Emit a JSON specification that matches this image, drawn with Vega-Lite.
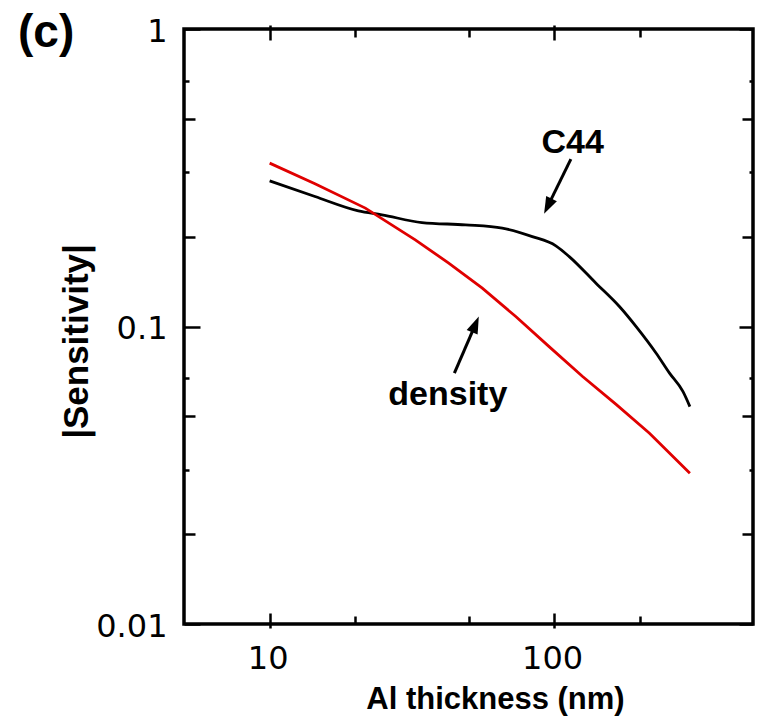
{
  "$schema": "https://vega.github.io/schema/vega-lite/v6.json",
  "width": 569,
  "height": 595,
  "autosize": {"type": "none"},
  "padding": {"left": 184, "top": 29, "right": 8, "bottom": 92},
  "background": "white",
  "title": {
    "text": "(c)",
    "orient": "top",
    "anchor": "start",
    "frame": "group",
    "font": "Liberation Sans",
    "fontSize": 46,
    "fontWeight": "bold",
    "color": "black",
    "dx": -166,
    "dy": 42,
    "offset": 0
  },
  "datasets": {
    "curves": [
      {"series": "C44", "thickness": 10, "sensitivity": 0.3088},
      {"series": "C44", "thickness": 14.43, "sensitivity": 0.2734},
      {"series": "C44", "thickness": 20.5, "sensitivity": 0.2447},
      {"series": "C44", "thickness": 24.8, "sensitivity": 0.2373},
      {"series": "C44", "thickness": 34.3, "sensitivity": 0.2236},
      {"series": "C44", "thickness": 48.8, "sensitivity": 0.2196},
      {"series": "C44", "thickness": 65.7, "sensitivity": 0.2141},
      {"series": "C44", "thickness": 83.8, "sensitivity": 0.2006},
      {"series": "C44", "thickness": 101.4, "sensitivity": 0.1867},
      {"series": "C44", "thickness": 113, "sensitivity": 0.1718},
      {"series": "C44", "thickness": 140.3, "sensitivity": 0.1398},
      {"series": "C44", "thickness": 169.6, "sensitivity": 0.1167},
      {"series": "C44", "thickness": 194.2, "sensitivity": 0.0999},
      {"series": "C44", "thickness": 228.4, "sensitivity": 0.0813},
      {"series": "C44", "thickness": 254.4, "sensitivity": 0.0697},
      {"series": "C44", "thickness": 283.5, "sensitivity": 0.0605},
      {"series": "C44", "thickness": 300, "sensitivity": 0.0538},
      {"series": "density", "thickness": 10, "sensitivity": 0.3541},
      {"series": "density", "thickness": 14.43, "sensitivity": 0.302},
      {"series": "density", "thickness": 21.7, "sensitivity": 0.25},
      {"series": "density", "thickness": 32.5, "sensitivity": 0.1956},
      {"series": "density", "thickness": 42.6, "sensitivity": 0.1633},
      {"series": "density", "thickness": 55.9, "sensitivity": 0.1345},
      {"series": "density", "thickness": 73.3, "sensitivity": 0.108},
      {"series": "density", "thickness": 96, "sensitivity": 0.0856},
      {"series": "density", "thickness": 125.9, "sensitivity": 0.0679},
      {"series": "density", "thickness": 165.1, "sensitivity": 0.0547},
      {"series": "density", "thickness": 216.3, "sensitivity": 0.0438},
      {"series": "density", "thickness": 300, "sensitivity": 0.0321}
    ],
    "labels": [
      {"label": "C44", "thickness": 116.2, "sensitivity": 0.3827},
      {"label": "density", "thickness": 42.3, "sensitivity": 0.0546}
    ],
    "arrows": [
      {"target": "C44", "thickness": 114.5, "sensitivity": 0.3653, "thickness_head": 95.0, "sensitivity_head": 0.2537},
      {"target": "density", "thickness": 44.6, "sensitivity": 0.0697, "thickness_head": 52.9, "sensitivity_head": 0.1016}
    ]
  },
  "layer": [
    {
      "data": {"name": "curves"},
      "transform": [{"filter": "datum.series === 'C44'"}],
      "mark": {"type": "line", "color": "black", "strokeWidth": 2.8, "interpolate": "monotone"},
      "encoding": {
        "x": {
          "field": "thickness", "type": "quantitative",
          "scale": {"type": "log", "domain": [5, 500], "nice": false},
          "axis": {"orient": "bottom", "values": [10, 100], "format": "~g", "ticks": false, "labels": true,
                   "labelPadding": 19, "labelOffset": -2,
                   "title": "Al thickness (nm)", "titleX": 311, "titleY": 84, "titleBaseline": "alphabetic", "titleAlign": "center"}
        },
        "y": {
          "field": "sensitivity", "type": "quantitative",
          "scale": {"type": "log", "domain": [0.01, 1], "nice": false},
          "axis": {"orient": "left", "values": [0.01, 0.1, 1], "format": "~g", "ticks": false, "labels": true,
                   "labelPadding": 17, "labelOffset": 2,
                   "title": "|Sensitivity|", "titleFontSize": 35, "titleAngle": -90, "titleX": -97, "titleY": 312,
                   "titleBaseline": "alphabetic", "titleAlign": "center"}
        }
      }
    },
    {
      "data": {"name": "curves"},
      "transform": [{"filter": "datum.series === 'density'"}],
      "mark": {"type": "line", "color": "#e00000", "strokeWidth": 2.8},
      "encoding": {
        "x": {
          "field": "thickness", "type": "quantitative",
          "scale": {"type": "log", "domain": [5, 500], "nice": false},
          "axis": {"orient": "bottom", "values": [10, 100], "labels": false, "title": null, "ticks": true, "tickSize": -15, "offset": 4}
        },
        "y": {
          "field": "sensitivity", "type": "quantitative",
          "scale": {"type": "log", "domain": [0.01, 1], "nice": false},
          "axis": {"orient": "left", "values": [0.01, 0.1, 1], "labels": false, "title": null, "ticks": true, "tickSize": -16}
        }
      }
    },
    {
      "data": {"name": "labels"},
      "transform": [{"filter": "datum.label === 'C44'"}],
      "mark": {"type": "text", "font": "Liberation Sans", "fontSize": 34, "fontWeight": "bold", "color": "black", "align": "center", "baseline": "alphabetic"},
      "encoding": {
        "text": {"field": "label"},
        "x": {
          "field": "thickness", "type": "quantitative",
          "scale": {"type": "log", "domain": [5, 500], "nice": false},
          "axis": {"orient": "bottom", "values": [20, 50, 200], "labels": false, "title": null, "ticks": true, "tickSize": -8}
        },
        "y": {
          "field": "sensitivity", "type": "quantitative",
          "scale": {"type": "log", "domain": [0.01, 1], "nice": false},
          "axis": {"orient": "left", "values": [0.02, 0.05, 0.2, 0.5], "labels": false, "title": null, "ticks": true, "tickSize": -11}
        }
      }
    },
    {
      "data": {"name": "labels"},
      "transform": [{"filter": "datum.label === 'density'"}],
      "mark": {"type": "text", "font": "Liberation Sans", "fontSize": 34, "fontWeight": "bold", "color": "black", "align": "center", "baseline": "alphabetic"},
      "encoding": {
        "text": {"field": "label"},
        "x": {
          "field": "thickness", "type": "quantitative",
          "scale": {"type": "log", "domain": [5, 500], "nice": false},
          "axis": {"orient": "top", "values": [10, 100], "labels": false, "title": null, "ticks": true, "tickSize": -15, "offset": 4}
        },
        "y": {
          "field": "sensitivity", "type": "quantitative",
          "scale": {"type": "log", "domain": [0.01, 1], "nice": false},
          "axis": {"orient": "left", "values": [0.033, 0.067, 0.33, 0.67], "labels": false, "title": null, "ticks": true, "tickSize": -5}
        }
      }
    },
    {
      "data": {"name": "arrows"},
      "mark": {"type": "rule", "color": "black", "strokeWidth": 3},
      "encoding": {
        "x": {
          "field": "thickness", "type": "quantitative",
          "scale": {"type": "log", "domain": [5, 500], "nice": false},
          "axis": {"orient": "top", "values": [20, 50, 200], "labels": false, "title": null, "ticks": true, "tickSize": -8}
        },
        "y": {
          "field": "sensitivity", "type": "quantitative",
          "scale": {"type": "log", "domain": [0.01, 1], "nice": false},
          "axis": {"orient": "right", "values": [0.01, 0.1, 1], "labels": false, "title": null, "ticks": true, "tickSize": -14}
        },
        "x2": {"field": "thickness_head"},
        "y2": {"field": "sensitivity_head"}
      }
    },
    {
      "data": {"name": "arrows"},
      "transform": [{"filter": "datum.target === 'C44'"}],
      "mark": {"type": "point", "shape": "M0,-1L-0.7,1L0.7,1Z", "filled": true, "color": "black", "opacity": 1, "size": 289, "angle": 206},
      "encoding": {
        "x": {
          "field": "thickness_head", "type": "quantitative",
          "scale": {"type": "log", "domain": [5, 500], "nice": false},
          "axis": null
        },
        "y": {
          "field": "sensitivity_head", "type": "quantitative",
          "scale": {"type": "log", "domain": [0.01, 1], "nice": false},
          "axis": {"orient": "right", "values": [0.02, 0.05, 0.2, 0.5], "labels": false, "title": null, "ticks": true, "tickSize": -11}
        }
      }
    },
    {
      "data": {"name": "arrows"},
      "transform": [{"filter": "datum.target === 'density'"}],
      "mark": {"type": "point", "shape": "M0,-1L-0.7,1L0.7,1Z", "filled": true, "color": "black", "opacity": 1, "size": 289, "angle": 23},
      "encoding": {
        "x": {
          "field": "thickness_head", "type": "quantitative",
          "scale": {"type": "log", "domain": [5, 500], "nice": false},
          "axis": null
        },
        "y": {
          "field": "sensitivity_head", "type": "quantitative",
          "scale": {"type": "log", "domain": [0.01, 1], "nice": false},
          "axis": {"orient": "right", "values": [0.033, 0.067, 0.33, 0.67], "labels": false, "title": null, "ticks": true, "tickSize": -4}
        }
      }
    }
  ],
  "resolve": {"axis": {"x": "independent", "y": "independent"}},
  "config": {
    "view": {"stroke": "black", "strokeWidth": 3.5},
    "axis": {
      "labelFont": "DejaVu Sans", "labelFontSize": 32, "labelColor": "black",
      "titleFont": "Liberation Sans", "titleFontSize": 31, "titleFontWeight": "bold", "titleColor": "black",
      "tickColor": "black", "tickWidth": 2.5, "domain": false, "grid": false,
      "labelFlush": false, "labelOverlap": false
    }
  }
}
